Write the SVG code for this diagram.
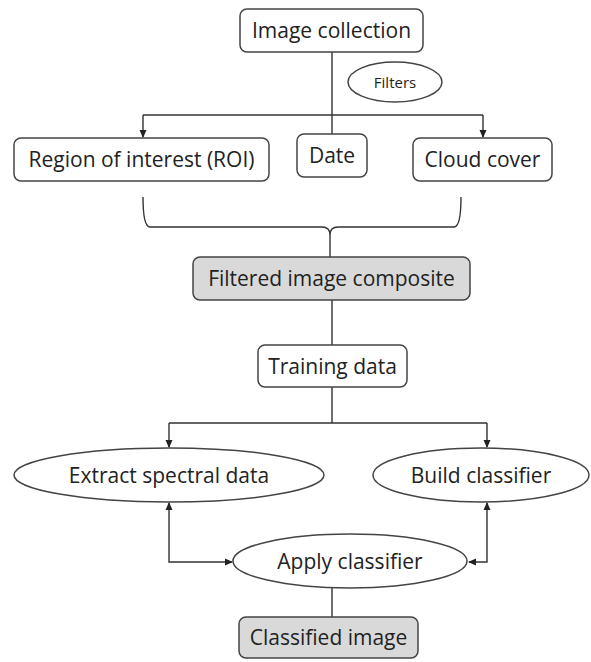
<svg xmlns="http://www.w3.org/2000/svg" width="591" height="662" viewBox="0 0 591 662">
<defs>
<marker id="ah" markerWidth="8" markerHeight="8" refX="7" refY="4" orient="auto" markerUnits="userSpaceOnUse">
<path d="M0,0.5 L8,4 L0,7.5 z" fill="#222"/>
</marker>
<marker id="ahr" markerWidth="8" markerHeight="8" refX="7" refY="4" orient="auto-start-reverse" markerUnits="userSpaceOnUse">
<path d="M0,0.5 L8,4 L0,7.5 z" fill="#222"/>
</marker>
<style>
.box{fill:#fff;stroke:#444;stroke-width:1.5}
.gray{fill:#d9d9d9;stroke:#444;stroke-width:1.5}
.ln{fill:none;stroke:#333;stroke-width:1.4}
text{font-family:"Open Sans","Liberation Sans",sans-serif;font-size:21px;fill:#222;text-anchor:middle}
.sm{font-size:15px}
</style>
</defs>
<rect width="591" height="662" fill="#fff"/>
<g id="connectors">
<path class="ln" d="M332,52 V134"/>
<path class="ln" d="M143,115 H483"/>
<path class="ln" d="M143,115 V137" marker-end="url(#ah)"/>
<path class="ln" d="M483,115 V137" marker-end="url(#ah)"/>
<path class="ln" d="M143,197 Q143,227 150,227 H322 Q330,227 330,235 V257 M330,235 Q330,227 338,227 H454 Q461,227 461,197"/>
<path class="ln" d="M332,300 V345"/>
<path class="ln" d="M332,387 V423 M169,423 H487"/>
<path class="ln" d="M169,423 V447" marker-end="url(#ah)"/>
<path class="ln" d="M487,423 V447" marker-end="url(#ah)"/>
<path class="ln" d="M169,503 V562 H232" marker-start="url(#ahr)" marker-end="url(#ah)"/>
<path class="ln" d="M487,503 V562 H469" marker-start="url(#ahr)" marker-end="url(#ah)"/>
<path class="ln" d="M332,588 V617"/>
</g>
<g id="image-collection"><rect class="box" x="240" y="9" width="183" height="43" rx="7"/><text x="331.5" y="38">Image collection</text></g>
<g id="filters"><ellipse class="box" cx="395" cy="82" rx="47" ry="20"/><text class="sm" x="395" y="87.5">Filters</text></g>
<g id="roi"><rect class="box" x="14" y="138" width="255" height="43" rx="7"/><text x="141.5" y="167">Region of interest (ROI)</text></g>
<g id="date"><rect class="box" x="297" y="134" width="70" height="43" rx="7"/><text x="332" y="163">Date</text></g>
<g id="cloud-cover"><rect class="box" x="413" y="138" width="139" height="43" rx="7"/><text x="482.5" y="167">Cloud cover</text></g>
<g id="filtered-composite"><rect class="gray" x="193" y="257" width="277" height="43" rx="7"/><text x="331.5" y="286">Filtered image composite</text></g>
<g id="training-data"><rect class="box" x="258" y="345" width="149" height="42" rx="7"/><text x="332.5" y="374">Training data</text></g>
<g id="extract-spectral"><ellipse class="box" cx="169" cy="475" rx="155" ry="27"/><text x="169" y="483">Extract spectral data</text></g>
<g id="build-classifier"><ellipse class="box" cx="481" cy="475" rx="108" ry="27"/><text x="481" y="483">Build classifier</text></g>
<g id="apply-classifier"><ellipse class="box" cx="350" cy="561" rx="117" ry="27"/><text x="350" y="569">Apply classifier</text></g>
<g id="classified-image"><rect class="gray" x="239" y="617" width="179" height="41" rx="7"/><text x="328.5" y="645">Classified image</text></g>
</svg>
